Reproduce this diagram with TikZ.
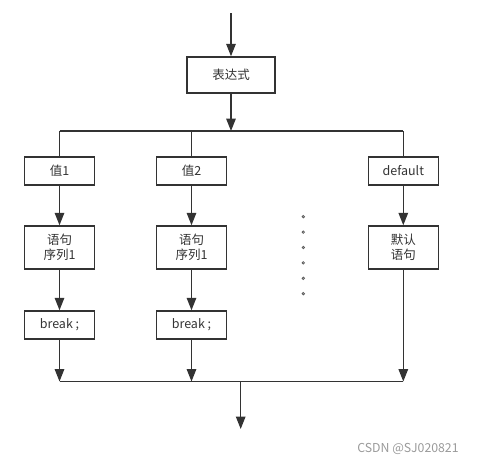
\documentclass[tikz,border=0pt]{standalone}
\usepackage{fontspec}
\setmainfont{Noto Sans CJK SC}
\usetikzlibrary{arrows.meta,positioning}
\definecolor{ink}{HTML}{333333}
\definecolor{mark}{HTML}{9A9A9A}

\begin{document}
\begin{tikzpicture}[x=1pt, y=-1pt, >={Triangle[length=12.5pt,width=9.5pt]},
  every path/.style={draw=ink, line width=1.5pt},
  box/.style={draw=ink, line width=1.5pt, text=ink, inner sep=0pt, minimum width=70pt, minimum height=28pt, align=center, font=\fontsize{12.5}{15}\selectfont},
  tallbox/.style={box, minimum height=43pt}]
\useasboundingbox[draw=none] (0,0) rectangle (480,464);
\node[box, minimum width=88pt, minimum height=36pt] (expr) at (231,75) {表达式};
\node[box] (v1) at (59.5,171) {值1};
\node[box] (v2) at (191.5,171) {值2};
\node[box] (vd) at (403.3,171) {default};
\node[tallbox] (s1) at (59.5,247.5) {语句\\序列1};
\node[tallbox] (s2) at (191.5,247.5) {语句\\序列1};
\node[tallbox] (sd) at (403.3,247.5) {默认\\语句};
\node[box] (b1) at (59.5,325) {break ;};
\node[box] (b2) at (191.5,325) {break ;};
\coordinate (in) at (231,13);
\coordinate (fork) at (231,131);
\coordinate (forkL) at (59.5,131);
\coordinate (forkR) at (403.3,131);
\coordinate (j1) at (59.5,381.5);
\coordinate (j2) at (191.5,381.5);
\coordinate (jd) at (403.3,381.5);
\coordinate (join) at (240.7,381.5);
\coordinate (out) at (240.7,429);
\draw[->] (in) -- (expr);
\draw[->] (expr) -- (fork);
\draw (forkL) -- (forkR);
\draw (forkL) -- (v1);
\draw (v2 |- fork) -- (v2);
\draw (forkR) -- (vd);
\draw[->] (v1) -- (s1);
\draw[->] (v2) -- (s2);
\draw[->] (vd) -- (sd);
\draw[->] (s1) -- (b1);
\draw[->] (s2) -- (b2);
\draw[->] (b1) -- (j1);
\draw[->] (b2) -- (j2);
\draw[->] (sd) -- (jd);
\draw (j1) -- (jd);
\draw[->] (join) -- (out);
% ellipsis dots between the columns
\foreach \k in {0,...,5}
  \draw[line width=0.8pt, draw=ink!80] (303.3,216.7+15.4*\k) circle (1.2pt);
\node[text=mark, inner sep=0pt, font=\fontsize{12.3}{14}\selectfont] (wm) at (408,449) {CSDN @SJ020821};
\end{tikzpicture}
\end{document}
